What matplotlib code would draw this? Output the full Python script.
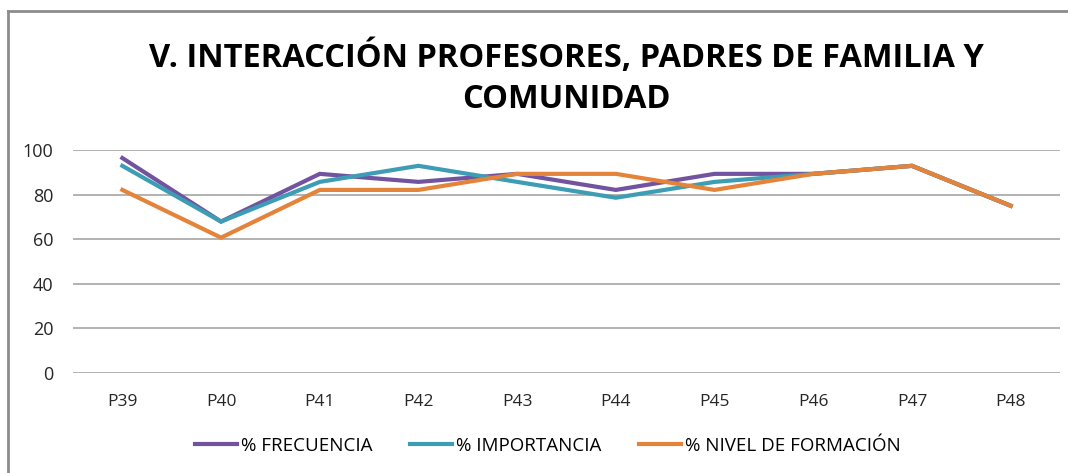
import matplotlib
matplotlib.use("Agg")
import matplotlib.pyplot as plt
from matplotlib.lines import Line2D

# categories and series values (%)
preguntas = ["P39", "P40", "P41", "P42", "P43", "P44", "P45", "P46", "P47", "P48"]
frecuencia = [96.4, 67.9, 89.3, 85.7, 89.3, 82.1, 89.3, 89.3, 92.9, 75.0]
importancia = [92.9, 67.9, 85.7, 92.9, 85.7, 78.6, 85.7, 89.3, 92.9, 75.0]
nivel_formacion = [82.1, 60.7, 82.1, 82.1, 89.3, 89.3, 82.1, 89.3, 92.9, 75.0]
y_ticks = [0, 20, 40, 60, 80, 100]

W, H = 1068, 473
fig = plt.figure(figsize=(W / 100, H / 100), dpi=100)
plt.rcParams['font.family'] = ['Open Sans', 'DejaVu Sans']

# chart border (only left and top visible in the crop)
fig.add_artist(Line2D([8 / W, 8 / W], [0, 1 - 11 / H], transform=fig.transFigure,
                      color="#8c8c8c", lw=2))
fig.add_artist(Line2D([8 / W, 1], [1 - 11 / H, 1 - 11 / H], transform=fig.transFigure,
                      color="#8c8c8c", lw=2))

ax = fig.add_axes([73 / W, 1 - 373 / H, (1060 - 73) / W, (373 - 150) / H])
x = range(len(preguntas))
ax.plot(x, frecuencia, color="#7153a0", lw=3, label="% FRECUENCIA", solid_joinstyle="miter")
ax.plot(x, importancia, color="#3c9db4", lw=3, label="% IMPORTANCIA", solid_joinstyle="miter")
ax.plot(x, nivel_formacion, color="#e3843a", lw=3, label="% NIVEL DE FORMACIÓN",
        solid_joinstyle="miter")

ax.set_xlim(-0.5, len(preguntas) - 0.5)
ax.set_ylim(0, 100)
ax.set_yticks(y_ticks)
ax.set_xticks(list(x))
ax.set_xticklabels(preguntas)
ax.grid(axis="y", color="#a6a6a6", lw=1.2)
ax.set_axisbelow(True)
for s in ax.spines.values():
    s.set_visible(False)
ax.tick_params(length=0, colors="#262626")
ax.tick_params(axis="x", labelsize=12.5, pad=15)
ax.tick_params(axis="y", labelsize=13, pad=14)

fig.text(0.53, 1 - 58 / H, "V. INTERACCIÓN PROFESORES, PADRES DE FAMILIA Y",
         ha="center", va="center", fontsize=23.5, fontweight="bold")
fig.text(0.53, 1 - 99 / H, "COMUNIDAD",
         ha="center", va="center", fontsize=23.5, fontweight="bold")

fig.legend(loc="center", bbox_to_anchor=(0.513, 1 - 446 / H), ncol=3, frameon=False,
           fontsize=13.5, handlelength=2.25, handletextpad=0.2, columnspacing=2.0)

fig.savefig("out.png", dpi=100)
